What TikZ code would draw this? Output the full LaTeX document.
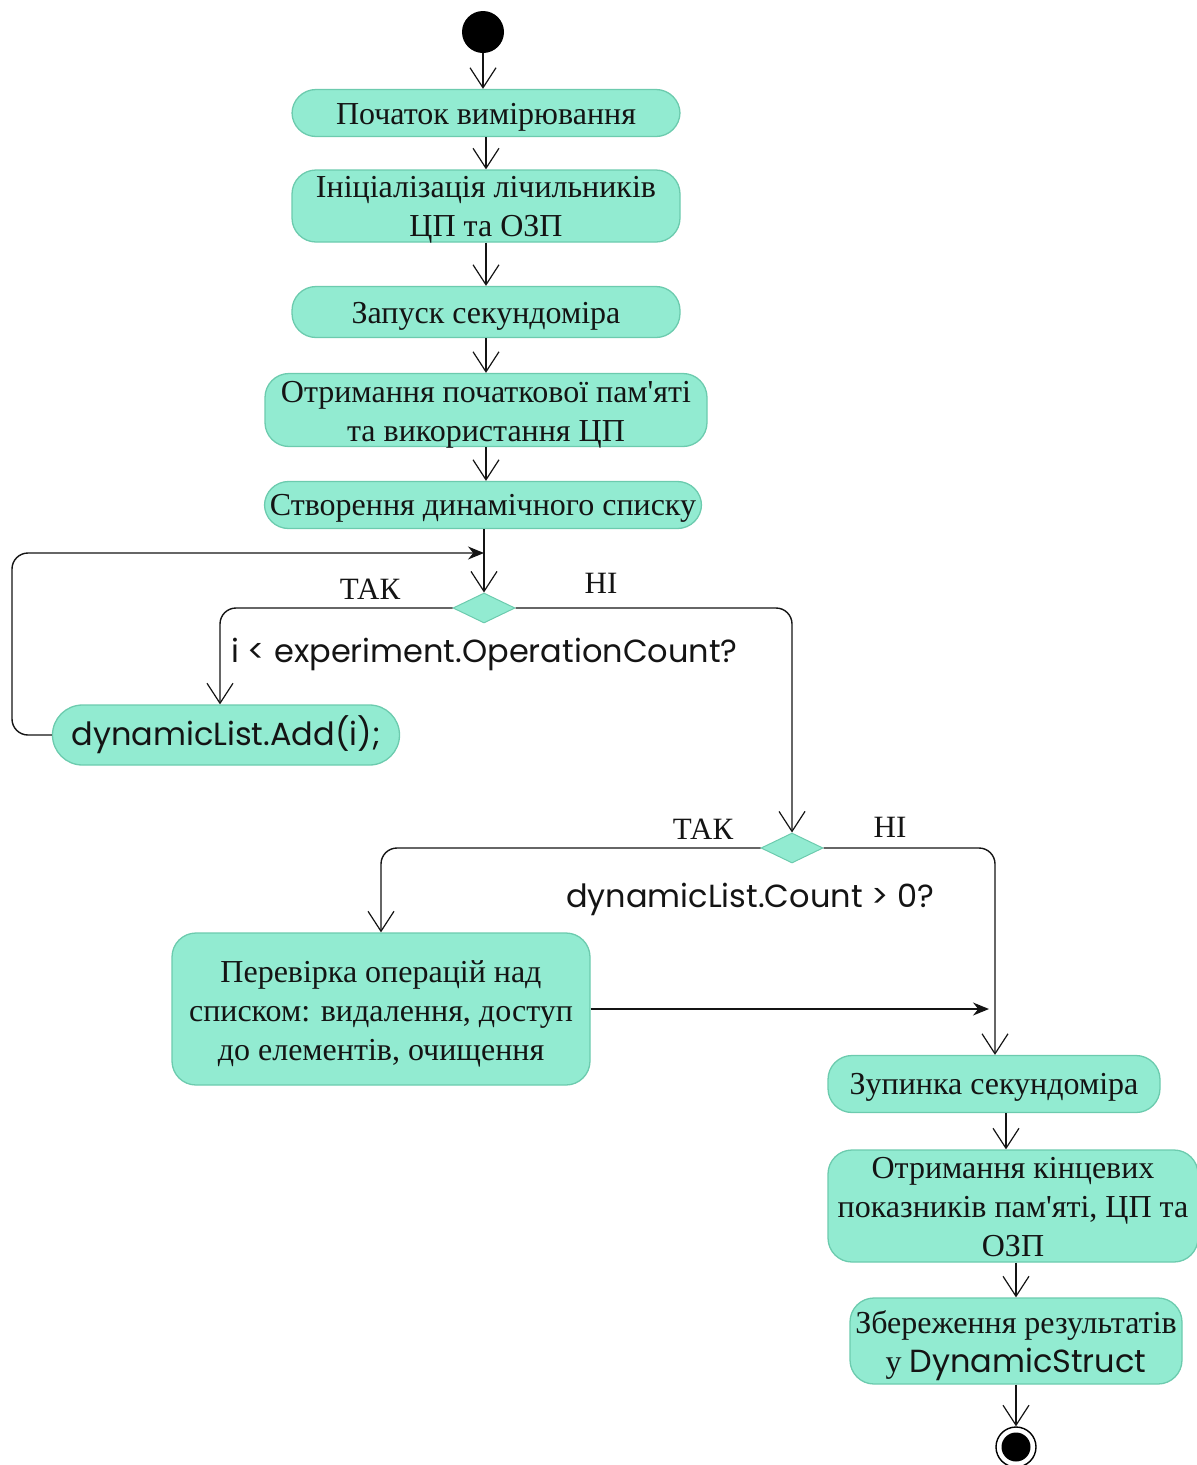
\documentclass[tikz,border=0pt]{standalone}
\usepackage{fontspec}
\setmainfont{Liberation Serif}
\newfontfamily\codefont{Poppins}
\usetikzlibrary{arrows.meta,shapes.geometric}
\definecolor{actfill}{HTML}{92EBD1}
\definecolor{actline}{HTML}{6CCBAE}
\definecolor{ink}{HTML}{141414}
\newcommand\apos{\textquotesingle}

\begin{document}
\begin{tikzpicture}[x=1pt,y=-1pt,
  act/.style={draw=actline, fill=actfill, line width=1.3pt, rounded corners=24pt, inner sep=0pt},
  acttext/.style={align=center, inner sep=0pt, text=ink, font=\fontsize{32}{39}\selectfont},
  decision/.style={diamond, draw=actline, fill=actfill, line width=1pt, aspect=2,
    minimum width=62pt, minimum height=30pt, inner sep=0pt},
  flow/.style={draw=ink, line width=1.4pt, rounded corners=16pt,
    -{Straight Barb[length=20pt,width=26pt,line width=1.2pt]}},
  back/.style={draw=ink, line width=1.4pt, rounded corners=16pt,
    -{Stealth[length=16pt,width=13pt]}},
  guard/.style={text=ink, font=\fontsize{31}{36}\selectfont},
  cond/.style={text=ink, font=\codefont\fontsize{32}{38}\selectfont}]

\useasboundingbox (0,0) rectangle (1197,1465);

% initial node
\node[circle, fill=black, minimum size=42pt, inner sep=0pt] (start) at (483,32) {};

% main activities: rounded boxes, each with its text set a little below centre
\node[act, minimum width=388pt, minimum height=47pt] (n1) at (486,113) {};
\node[acttext] (n1t) at ([yshift=-4pt]n1.center) {Початок вимірювання};
\node[act, minimum width=388pt, minimum height=72pt] (n2) at (486,206) {};
\node[acttext] (n2t) at ([yshift=-4pt]n2.center) {Ініціалізація лічильників\\ЦП та ОЗП};
\node[act, minimum width=388pt, minimum height=51pt] (n3) at (486,312) {};
\node[acttext] (n3t) at ([yshift=-4pt]n3.center) {Запуск секундоміра};
\node[act, minimum width=442pt, minimum height=73pt] (n4) at (486,410) {};
\node[acttext] (n4t) at ([yshift=-5pt]n4.center) {Отримання початкової пам\apos яті\\та використання ЦП};
\node[act, minimum width=437pt, minimum height=47pt] (n5) at (483,505) {};
\node[acttext] (n5t) at ([yshift=-3pt]n5.center) {Створення динамічного списку};

% loop decision
\node[decision] (d1) at (484,608) {};
\coordinate (loopin) at (484,553);
\node[act, minimum width=347pt, minimum height=60pt, rounded corners=30pt,
  text=ink, font=\codefont\fontsize{32}{38}\selectfont] (add) at (226,735) {dynamicList.Add(i);};

% second decision
\node[decision] (d2) at (792,848) {};
\node[act, minimum width=418pt, minimum height=152pt, rounded corners=24pt] (check) at (381,1009) {};
\node[acttext] (checkt) at ([yshift=-5pt]check.center)
  {Перевірка операцій над\\списком: видалення, доступ\\до елементів, очищення};

% final activities
\node[act, minimum width=332pt, minimum height=57pt] (stop) at (994,1084) {};
\node[acttext] (stopt) at ([yshift=-3pt]stop.center) {Зупинка секундоміра};
\node[act, minimum width=370pt, minimum height=112pt] (final) at (1013,1206) {};
\node[acttext] (finalt) at ([yshift=-1pt]final.center)
  {Отримання кінцевих\\показників пам\apos яті, ЦП та\\ОЗП};
\node[act, minimum width=332pt, minimum height=86pt] (save) at (1016,1341) {};
\node[acttext] (savet) at ([yshift=-5pt]save.center)
  {Збереження результатів\\у {\codefont DynamicStruct}};

% final node
\node[circle, draw=black, fill=white, line width=1.4pt, minimum size=40pt, inner sep=0pt] (end) at (1016,1447) {};
\node[circle, fill=black, minimum size=29pt, inner sep=0pt] (endin) at (end.center) {};

% guards and conditions
\node[guard] (t1) at (370,589) {ТАК};
\node[guard] (f1) at (601,583) {НІ};
\node[cond, anchor=west] (c1) at (228,654) {i < experiment.OperationCount?};
\node[guard] (t2) at (703,829) {ТАК};
\node[guard] (f2) at (890,827) {НІ};
\node[cond] (c2) at (750,899) {dynamicList.Count > 0?};

% sequential flow
\draw[flow] (start.south) -- (start.south |- n1.north);
\draw[flow] (n1.south) -- (n2.north);
\draw[flow] (n2.south) -- (n3.north);
\draw[flow] (n3.south) -- (n4.north);
\draw[flow] (n4.south) -- (n4.south |- n5.north);
\draw[flow] (n5.south -| d1.north) -- (d1.north);

% loop body and return
\draw[flow] (d1.west) -| ([xshift=-6pt]add.north);
\draw[back] (add.west) -- (12,735) -- (12,553) -- (loopin);

% exit of the loop
\draw[flow] (d1.east) -| (d2.north);
\draw[flow] (d2.west) -| (check.north);
\draw[flow] (d2.east) -| ([xshift=1pt]stop.north);
\draw[back, rounded corners=0pt] (check.east) -- ([xshift=-5pt]check.east -| stop.north);

% closing sequence
\draw[flow] ([xshift=12pt]stop.south) -- ([xshift=12pt]stop.south |- final.north);
\draw[flow] (final.south -| save.north) -- (save.north);
\draw[flow] (save.south) -- (end.north);
\end{tikzpicture}
\end{document}
